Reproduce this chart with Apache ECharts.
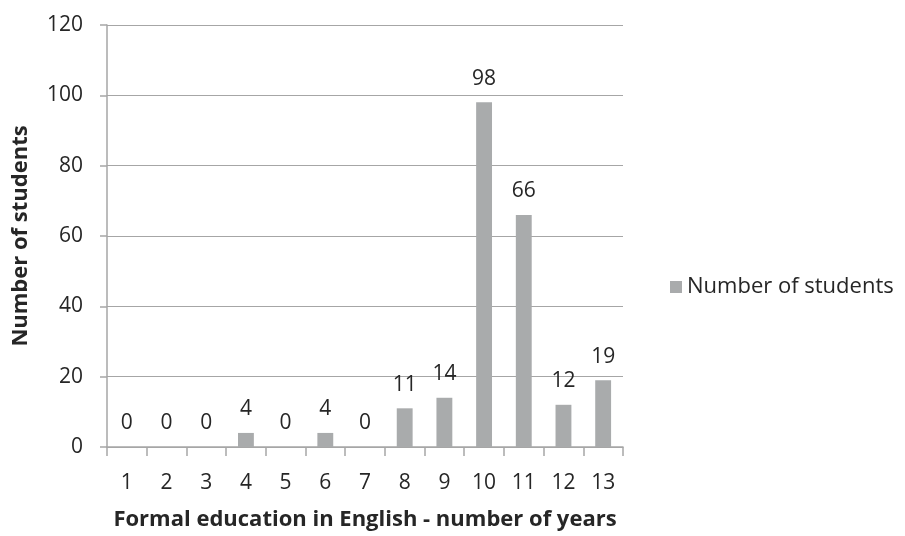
<!DOCTYPE html>
<html><head><meta charset="utf-8">
<script src="https://cdn.jsdelivr.net/npm/echarts@6/dist/echarts.min.js"></script>
<style>html,body{margin:0;padding:0;background:#fff}#c{width:905px;height:536px}</style>
</head><body><div id="c"></div>
<script>
const categories = ['1','2','3','4','5','6','7','8','9','10','11','12','13'];
const values = [0,0,0,4,0,4,0,11,14,98,66,12,19];
const seriesName = 'Number of students';
const xTitle = 'Formal education in English - number of years';
const yTitle = 'Number of students';
const yTicks = [0,20,40,60,80,100,120];

const font = '"Open Sans"';
const txt = '#262626';
const chart = echarts.init(document.getElementById('c'));
chart.setOption({
  animation:false,
  grid:{left:107,right:282,top:25,bottom:87,containLabel:false},
  legend:{data:[seriesName],left:665,top:271,itemWidth:12,itemHeight:12,itemGap:9,
    textStyle:{fontFamily:font,fontSize:22,color:txt},icon:'rect'},
  xAxis:{type:'category',data:categories,
    name:xTitle,nameLocation:'middle',nameGap:62,
    nameTextStyle:{fontFamily:font,fontWeight:'bold',fontSize:22,color:txt},
    axisLine:{lineStyle:{color:'#a6a6a6',width:1.5}},
    axisTick:{show:true,length:9,lineStyle:{color:'#a6a6a6',width:1.5},alignWithLabel:false},
    axisLabel:{fontFamily:font,fontSize:21,color:txt,margin:26}},
  yAxis:{type:'value',min:0,max:120,interval:20,
    name:yTitle,nameLocation:'middle',nameGap:75,nameRotate:90,
    nameTextStyle:{fontFamily:font,fontWeight:'bold',fontSize:22,color:txt},
    axisLine:{show:true,lineStyle:{color:'#a6a6a6',width:1.5}},
    axisTick:{show:true,length:7,lineStyle:{color:'#a6a6a6',width:1.5}},
    splitLine:{lineStyle:{color:'#a6a6a6',width:1.2}},
    axisLabel:{fontFamily:font,fontSize:21,color:txt,margin:24,
      formatter:v=>yTicks.includes(v)?String(v):''}},
  series:[{type:'bar',name:seriesName,data:values,barWidth:'40%',
    itemStyle:{color:'#a9abac'},
    label:{show:true,position:'top',distance:13,fontFamily:font,fontSize:21,color:txt}}]
});
</script></body></html>
